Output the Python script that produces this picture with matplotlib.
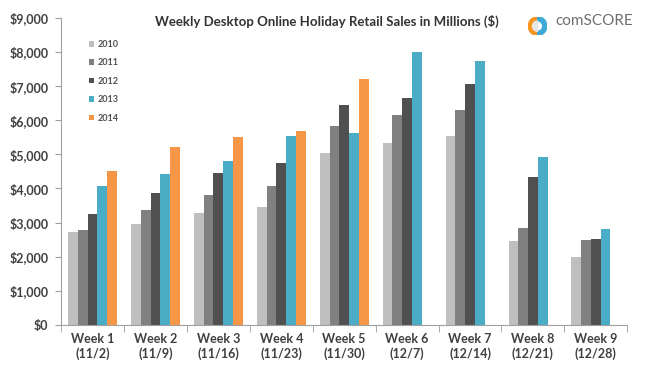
import numpy as np
import matplotlib.pyplot as plt
from matplotlib.patches import Wedge

plt.rcParams['font.family'] = ['Lato', 'DejaVu Sans']

# Data (millions of $)
weeks = ["Week 1\n(11/2)", "Week 2\n(11/9)", "Week 3\n(11/16)", "Week 4\n(11/23)",
         "Week 5\n(11/30)", "Week 6\n(12/7)", "Week 7\n(12/14)", "Week 8\n(12/21)",
         "Week 9\n(12/28)"]
years = ["2010", "2011", "2012", "2013", "2014"]
sales_2010 = [2720, 2950, 3290, 3470, 5040, 5320, 5530, 2450, 1990]
sales_2011 = [2780, 3380, 3800, 4080, 5830, 6140, 6310, 2830, 2500]
sales_2012 = [3240, 3880, 4440, 4760, 6450, 6650, 7050, 4330, 2530]
sales_2013 = [4080, 4410, 4800, 5540, 5640, 8010, 7730, 4930, 2810]
sales_2014 = [4510, 5210, 5520, 5670, 7210, np.nan, np.nan, np.nan, np.nan]
colors = ["#BFBFBF", "#808080", "#505050", "#4BACC6", "#F79646"]

series = [sales_2010, sales_2011, sales_2012, sales_2013, sales_2014]

fig = plt.figure(figsize=(6.67, 3.73), dpi=100)
ax = fig.add_axes([0.0915, 0.129, 0.849, 0.823])

x = np.arange(len(weeks))
width = 0.155
for i, (vals, c, yr) in enumerate(zip(series, colors, years)):
    ax.bar(x + (i - 2) * width, vals, width, color=c, label=yr, linewidth=0)

ax.set_xlim(-0.5, len(weeks) - 0.5)
ax.set_ylim(0, 9000)
ax.set_yticks(np.arange(0, 9001, 1000))
ax.set_yticklabels(["$0"] + [f"${v:,}" for v in range(1000, 9001, 1000)],
                   fontsize=9, fontweight="bold", color="#404040")
ax.set_xticks(x)
ax.set_xticklabels(weeks, fontsize=9, fontweight="bold", color="#404040")
ax.tick_params(axis="x", length=0, pad=6)
ax.set_xticks(np.arange(-0.5, len(weeks)), minor=True)
ax.tick_params(axis="x", which="minor", length=5, color="#A0A0A0", direction="out")
ax.tick_params(axis="y", length=4, color="#A0A0A0", direction="out", pad=5)

for s in ["top", "right"]:
    ax.spines[s].set_visible(False)
for s in ["left", "bottom"]:
    ax.spines[s].set_color("#A0A0A0")

leg = ax.legend(loc="upper left", bbox_to_anchor=(0.035, 0.955), frameon=False,
                prop={"size": 6.5, "weight": "bold"}, handlelength=0.6,
                handleheight=0.6, labelspacing=1.05, handletextpad=0.4)
for t in leg.get_texts():
    t.set_color("#505050")

fig.text(0.49, 0.943, "Weekly Desktop Online Holiday Retail Sales in Millions ($)",
         ha="center", va="center", fontsize=9.5, fontweight="bold", color="#333333")

# comScore logo
lax = fig.add_axes([0.792, 0.905, 0.028, 0.05])
lax.set_xlim(-1, 1)
lax.set_ylim(-1, 1)
lax.set_aspect("equal")
lax.axis("off")
lax.add_patch(Wedge((0, 0), 1, 90, 270, width=0.45, color="#F7941D"))
lax.add_patch(Wedge((0, 0), 1, -90, 90, width=0.45, color="#3FA9D6"))
lax.add_patch(Wedge((0, 0), 0.55, 90, 270, color="#E6E6E6"))
fig.text(0.832, 0.945, "comSCORE", ha="left", va="center", fontsize=11,
         color="#6D6E71")

fig.savefig("out.png", dpi=100)
